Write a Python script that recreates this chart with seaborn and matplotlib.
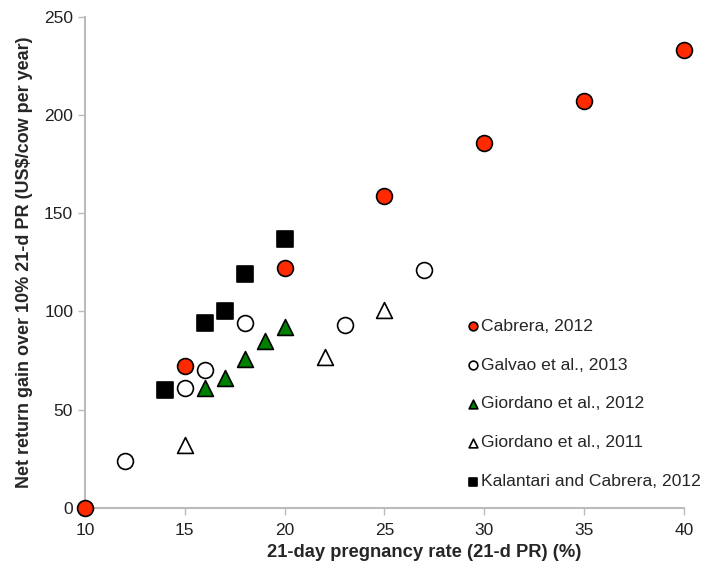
import matplotlib
matplotlib.use("Agg")
import matplotlib.pyplot as plt
import seaborn as sns
import pandas as pd

sns.set_style("white")
plt.rcParams['font.family'] = ['Liberation Sans', 'DejaVu Sans']

# data
cabrera_x = [10, 15, 20, 25, 30, 35, 40]
cabrera_y = [0, 72, 122, 159, 186, 207, 233]
galvao_x = [12, 15, 16, 18, 23, 27]
galvao_y = [24, 61, 70, 94, 93, 121]
giordano12_x = [16, 17, 18, 19, 20]
giordano12_y = [61, 66, 76, 85, 92]
giordano11_x = [15, 22, 25]
giordano11_y = [32, 77, 101]
kalantari_x = [14, 16, 17, 18, 20]
kalantari_y = [60, 94, 100, 119, 137]

series = [
    ("Cabrera, 2012", cabrera_x, cabrera_y, "o", "#ff2a00"),
    ("Galvao et al., 2013", galvao_x, galvao_y, "o", "white"),
    ("Giordano et al., 2012", giordano12_x, giordano12_y, "^", "#008000"),
    ("Giordano et al., 2011", giordano11_x, giordano11_y, "^", "white"),
    ("Kalantari and Cabrera, 2012", kalantari_x, kalantari_y, "s", "black"),
]

fig = plt.figure(figsize=(7.08, 5.68), dpi=100)
ax = fig.add_axes([0.12, 0.106, 0.846, 0.864])

for name, xs, ys, mk, col in series:
    df = pd.DataFrame({"x": xs, "y": ys})
    sns.scatterplot(data=df, x="x", y="y", ax=ax, marker=mk, color=col,
                    edgecolor="black", linewidth=1.2, s=130, label=name,
                    zorder=3, clip_on=False)

ax.set_xlim(10, 40)
ax.set_ylim(0, 250)
ax.set_xticks([10, 15, 20, 25, 30, 35, 40])
ax.set_yticks([0, 50, 100, 150, 200, 250])
ax.tick_params(axis="both", labelsize=12.5, colors="#222222", length=5,
               width=1, direction="out", color="#bbbbbb", bottom=True, left=True)
ax.tick_params(axis="x", pad=6)
for side in ["top", "right"]:
    ax.spines[side].set_visible(False)
for side in ["left", "bottom"]:
    ax.spines[side].set_color("#bbbbbb")
    ax.spines[side].set_linewidth(1.5)

ax.set_xlabel("21-day pregnancy rate (21-d PR) (%)", fontsize=13.2,
              fontweight="bold")
ax.xaxis.set_label_coords(0.566, -0.074)
ax.set_ylabel("Net return gain over 10% 21-d PR (US$/cow per year)",
              fontsize=13, fontweight="bold", labelpad=8)

leg = ax.legend(loc="upper left", bbox_to_anchor=(0.624, 0.4), frameon=False,
                fontsize=12.6, markerscale=0.55, handletextpad=0.1,
                labelspacing=1.35, handlelength=0.8, borderaxespad=0)

fig.savefig("out.png", dpi=100)
